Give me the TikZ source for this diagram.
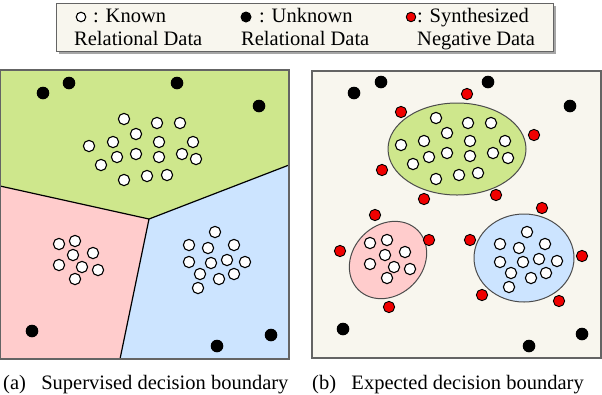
\documentclass[tikz,border=0pt]{standalone}
\usepackage{fontspec}
\setmainfont{Liberation Serif}
\definecolor{lgreen}{RGB}{206,231,140}
\definecolor{lpink}{RGB}{255,204,204}
\definecolor{lblue}{RGB}{204,228,255}
\definecolor{beige}{RGB}{248,246,238}
\definecolor{dotred}{RGB}{240,0,0}
\definecolor{framegray}{RGB}{100,100,100}
\tikzset{
  known/.style={circle,draw=black,fill=white,line width=1.1bp,inner sep=0,minimum size=11.3bp},
  unknown/.style={circle,fill=black,inner sep=0,minimum size=12.6bp},
  synth/.style={circle,draw=black,fill=dotred,line width=0.9bp,inner sep=0,minimum size=11.3bp},
  legtext/.style={anchor=base west,inner sep=0},
  panel/.style={draw=framegray,line width=1.3bp},
  blob/.style={draw=black!70,line width=1bp}
}
\begin{document}
\begin{tikzpicture}[x=1bp,y=-1bp,font=\fontsize{20.5bp}{24bp}\selectfont]
\useasboundingbox (0,0) rectangle (602,394);
% legend
\fill[black!35] (59,6) rectangle (556,54);
\draw[fill=beige,draw=framegray,line width=1bp] (56,3) rectangle (553,51);
\node[known,minimum size=9.5bp] (legK) at (81,17) {};
\node[legtext] (legKa) at (93,22) {: Known};
\node[legtext] (legKb) at (74,45.7) {Relational Data};
\node[unknown,minimum size=11bp] (legU) at (246,17) {};
\node[legtext] (legUa) at (259,22) {: Unknown};
\node[legtext] (legUb) at (241,45.7) {Relational Data};
\node[synth,minimum size=9.5bp] (legS) at (411,17) {};
\node[legtext] (legSa) at (417,22) {: Synthesized};
\node[legtext] (legSb) at (417,45.7) {Negative Data};
% (a) supervised
\coordinate (J) at (149,219);
\fill[lgreen] (0,70) -- (289,70) -- (289,165) -- (J) -- (0,186) -- cycle;
\fill[lpink] (0,186) -- (J) -- (120,359) -- (0,359) -- cycle;
\fill[lblue] (J) -- (289,165) -- (289,359) -- (120,359) -- cycle;
\draw[line width=1.2bp] (0,186) -- (J) -- (289,165) (J) -- (120,359);
\draw[panel] (0.7,70) rectangle (289,359);
\foreach \x/\y [count=\i] in {124/119,157/123,180/123,136/134,89/146,113/142,159/142,193/142,136/154,117/157,159/157,182/154,196/159,101/165,124/180,147/176,167/175}
  \node[known] (ga\i) at (\x,\y) {};
\foreach \x/\y [count=\i] in {59/244,75/241,73/255,93/253,59/265,82/267,98/270,75/279}
  \node[known] (pa\i) at (\x,\y) {};
\foreach \x/\y [count=\i] in {215/232,189/245,208/248,234/245,189/262,211/263,227/260,245/262,200/274,219/279,234/274,198/288}
  \node[known] (ba\i) at (\x,\y) {};
\foreach \x/\y [count=\i] in {43/93,69/83,177/83,259/106,32/331,217/346,271/335}
  \node[unknown] (ua\i) at (\x,\y) {};
\node[anchor=base west,inner sep=0] (capA) at (3,389) {(a)\hspace{0.75em}Supervised decision boundary};
% (b) expected
\draw[panel,fill=beige] (312,71) rectangle (601,358);
\draw[blob,fill=lgreen] (457,149) ellipse [x radius=69,y radius=46];
\draw[blob,fill=lpink,rotate around={45:(388,260)}] (388,260) ellipse [x radius=42,y radius=35];
\draw[blob,fill=lblue] (524,258) ellipse [x radius=50,y radius=44];
\foreach \x/\y [count=\i] in {436/118,468/123,491/123,447/133,401/145,424/141,470/141,505/141,429/157,447/153,470/156,493/153,508/158,413/164,436/179,459/175,478/173}
  \node[known] (gb\i) at (\x,\y) {};
\foreach \x/\y [count=\i] in {370/243,387/240,385/255,405/252,370/264,394/267,410/269,387/278}
  \node[known] (pb\i) at (\x,\y) {};
\foreach \x/\y [count=\i] in {527/232,500/244,519/248,545/244,500/262,523/262,539/259,557/261,511/273,531/278,546/273,509/287}
  \node[known] (bb\i) at (\x,\y) {};
\foreach \x/\y [count=\i] in {467/94,401/112,534/135,382/170,424/199,496/195,375/215,340/251,429/240,389/307,542/208,470/240,582/256,482/295,559/301}
  \node[synth] (sb\i) at (\x,\y) {};
\foreach \x/\y [count=\i] in {354/93,381/82,488/82,570/106,343/329,529/346,582/334}
  \node[unknown] (ub\i) at (\x,\y) {};
\node[anchor=base west,inner sep=0] (capB) at (312,389) {(b)\hspace{0.75em}Expected decision boundary};
\end{tikzpicture}
\end{document}
